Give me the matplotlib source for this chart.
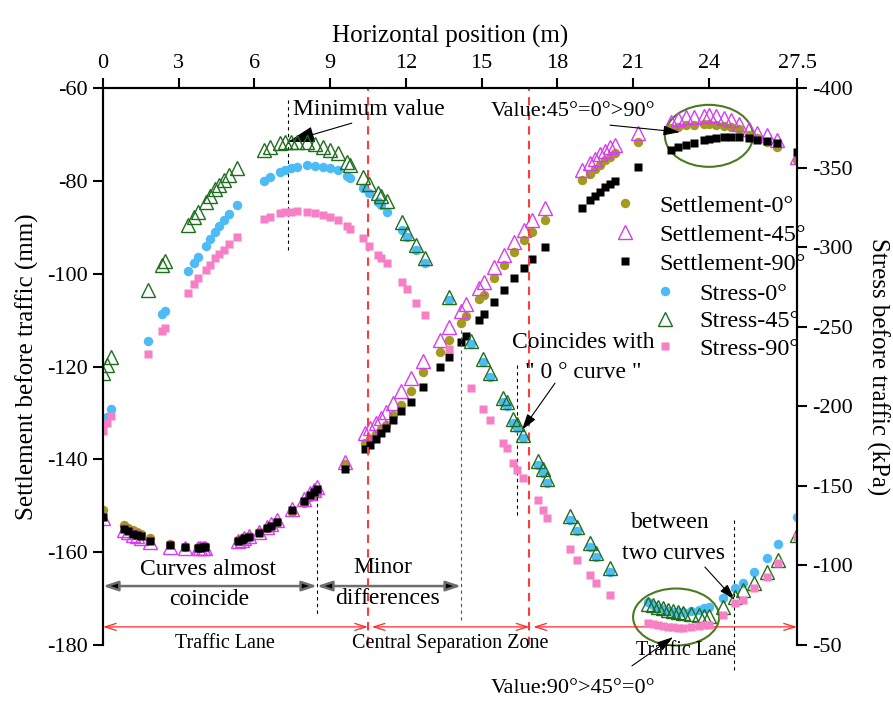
import matplotlib
matplotlib.use("Agg")
import matplotlib.pyplot as plt
from matplotlib.patches import Ellipse

plt.rcParams['font.family'] = ['Liberation Serif', 'DejaVu Sans']
plt.rcParams['axes.unicode_minus'] = False

# ======================================
# data
# ======================================

x_set = [0, 0.85, 1.0, 1.2, 1.35, 1.5, 1.85, 2.65, 3.25, 3.75,
         3.85, 3.95, 4.05, 5.35, 5.5, 5.6, 5.8, 6.2, 6.5, 6.65,
         6.9, 7.5, 7.95, 8.2, 8.35, 8.5, 9.6, 10.4, 10.6, 10.8,
         11.0, 11.2, 11.5, 11.8, 12.2, 12.7, 13.35, 13.7, 14.2, 14.4,
         14.9, 15.1, 15.5, 15.9, 16.3, 16.7, 17.0, 17.5, 19.0, 19.3,
         19.5, 19.7, 19.9, 20.1, 20.3, 21.2, 22.5, 22.8, 23.1, 23.4,
         23.8, 24.0, 24.3, 24.6, 24.9, 25.2, 25.6, 25.9, 26.3, 26.7,
         27.5]

settle_0 = [-151, -154.2, -154.8, -155.3, -155.7, -156.0, -157, -158.2, -158.8, -158.8,
            -158.8, -158.7, -158.6, -157.4, -157.1, -156.9, -156.6, -155.7, -154.7, -154.3,
            -153.5, -151.3, -149.4, -148.2, -147.6, -147.0, -141.0, -136.5, -135.6, -134.6,
            -133.5, -132.5, -130.5, -128.3, -125.2, -121.2, -116.9, -114.3, -110.6, -109.2,
            -105.5, -104.5, -100.9, -98.1, -95.3, -92.8, -91.0, -88.4, -79.8, -78.5,
            -77.5, -76.5, -75.6, -74.8, -74.0, -71.6, -68.6, -68.3, -68.0, -67.9,
            -67.8, -67.8, -67.9, -68.1, -68.4, -68.9, -70.1, -70.8, -71.6, -72.7,
            -75.5]

settle_45 = [-152.7, -155.2, -155.7, -156.3, -156.6, -156.9, -157.8, -158.8, -159.1, -159.2,
             -159.2, -159.1, -159.0, -157.6, -157.3, -157.0, -156.6, -155.6, -154.5, -154.0,
             -153.1, -150.7, -148.6, -147.2, -146.5, -145.9, -140.5, -134.4, -133.3, -132.2,
             -131.0, -129.8, -127.8, -125.3, -122.5, -118.8, -114.3, -111.5, -108.0, -106.5,
             -103.0, -101.8, -98.5, -96.0, -93.2, -90.6, -88.4, -85.9, -77.7, -76.2,
             -75.2, -74.3, -73.5, -72.8, -72.2, -69.7, -67.3, -66.6, -66.3, -66.2,
             -66.1, -65.9, -66.1, -66.4, -66.8, -67.8, -68.9, -69.6, -70.1, -71.2,
             -74.9]

settle_90 = [-152.5, -155.0, -155.5, -156.0, -156.3, -156.6, -157.5, -158.5, -158.9, -159.0,
             -159.0, -158.9, -158.8, -157.6, -157.3, -157.0, -156.7, -155.8, -154.8, -154.3,
             -153.4, -151.0, -148.9, -147.6, -147.0, -146.4, -142.0, -137.8, -136.9, -135.6,
             -134.4, -133.2, -131.6, -129.6, -127.7, -124.4, -120.1, -118.0, -114.7, -113.4,
             -109.9, -108.6, -106.0, -103.6, -101.0, -98.8, -96.9, -94.3, -85.9, -84.2,
             -83.2, -82.3, -81.4, -80.7, -80.0, -77.0, -73.4, -72.7, -72.2, -71.8,
             -71.3, -71.0, -70.8, -70.6, -70.6, -70.6, -70.8, -71.1, -71.5, -71.9,
             -73.8]

x_str = [0.0, 0.15, 0.3, 1.8, 2.35, 2.45, 3.35, 3.6, 3.75, 4.1,
         4.25, 4.45, 4.6, 4.8, 5.0, 5.3, 6.4, 6.6, 7.0, 7.2,
         7.45, 7.7, 8.1, 8.4, 8.7, 9.0, 9.3, 9.65, 9.8, 10.3,
         10.55, 10.9, 11.0, 11.25, 11.85, 12.05, 12.4, 12.75, 13.7, 14.6,
         15.05, 15.35, 15.85, 16.0, 16.25, 16.4, 16.65, 17.25, 17.45, 17.6,
         18.5, 18.8, 19.3, 19.55, 20.1, 21.6, 21.8, 22.0, 22.2, 22.4,
         22.6, 22.8, 23.0, 23.3, 23.6, 23.8, 24.0, 24.55, 25.05, 25.35,
         25.8, 26.3, 26.75, 27.5]

stress_0 = [-188, -193, -198, -241, -258, -260, -285, -290, -294, -301,
            -305, -309.5, -313, -317, -321, -326.5, -341.6, -344, -347.2, -348.5,
            -349.7, -350.6, -351.5, -351, -350.3, -349.5, -348.3, -344.5, -343.4, -337.2,
            -334, -328.5, -326.5, -322, -311, -306.5, -298.5, -290, -267, -239,
            -228, -218.5, -203, -200, -189.5, -186.4, -180, -163, -158, -152,
            -128.5, -121.5, -111.6, -105.3, -96, -77, -75, -73.5, -72.5, -71.5,
            -71, -70.8, -70.8, -71.2, -72.3, -73.3, -74, -79.5, -85.8, -89,
            -96, -104.7, -113.5, -130.4]

stress_45 = [-221, -226, -231, -273, -289, -291, -314, -319, -322, -328.4,
             -332, -336.5, -339, -342, -345.5, -349.7, -361, -363, -365.4, -365.8,
             -366.2, -366.2, -365.8, -364.8, -362.8, -361, -359, -353.5, -351.5, -344,
             -339.5, -334, -332, -329, -315.8, -309, -301.5, -293.2, -268.7, -241,
             -230, -221, -205, -202.5, -192, -189, -182, -165.5, -160.5, -154.5,
             -131, -124, -114, -108, -98.5, -76, -75, -74, -73, -72,
             -71.5, -70.8, -70.2, -69.5, -69, -68.5, -68.2, -74, -80, -84.5,
             -89, -96, -103.4, -119]

stress_90 = [-184.5, -189.5, -194, -232.8, -247.5, -249.5, -271.2, -276.8, -280.6, -285.6,
             -289, -293, -296, -298.5, -302, -306.4, -317.7, -319, -321.5, -322,
             -322.4, -322.7, -322.1, -321.5, -320.2, -319, -317, -313, -311.5, -305.7,
             -301, -295, -293, -290, -278, -273.7, -265, -257.4, -236, -211.5,
             -198.3, -191.4, -177, -173.8, -164.4, -160, -155, -141, -134.8, -129.8,
             -110.3, -103.4, -94, -89, -81.4, -64, -63, -62.3, -61.7, -61.2,
             -61, -60.8, -60.8, -61, -61.8, -62.3, -62.6, -68.8, -76.4, -78.3,
             -85.8, -92.7, -101.5, -117.8]

x_ticks = [0, 3, 6, 9, 12, 15, 18, 21, 24, 27.5]
x_tick_labels = ["0", "3", "6", "9", "12", "15", "18", "21", "24", "27.5"]
left_ticks = [-180, -160, -140, -120, -100, -80, -60]
right_ticks = [-400, -350, -300, -250, -200, -150, -100, -50]

zone_edges = [0, 10.5, 16.9, 27.5]
zone_names = ["Traffic Lane", "Central Separation Zone", "Traffic Lane"]

# ======================================
# figure
# ======================================

fig = plt.figure(figsize=(8.93, 7.02), dpi=100)
ax = fig.add_axes([0.1153, 0.0812, 0.7772, 0.7934])
ax2 = ax.twinx()

c_olive = "#A39A1E"
c_mag = "#D63CF0"
c_blue = "#4DBBF5"
c_green = "#1E6E1E"
c_pink = "#F77FC6"

ax.plot(x_set, settle_0, "o", color=c_olive, ms=6.8, mec="none", label="Settlement-0°")
ax.plot(x_set, settle_45, "^", mfc="none", mec=c_mag, mew=1.0, ms=10, label="Settlement-45°")
ax.plot(x_set, settle_90, "s", color="black", ms=5.5, mec="none", label="Settlement-90°")

ax2.plot(x_str, stress_0, "o", color=c_blue, ms=6.8, mec="none", label="Stress-0°")
ax2.plot(x_str, stress_45, "^", mfc="none", mec=c_green, mew=1.0, ms=10, label="Stress-45°")
ax2.plot(x_str, stress_90, "s", color=c_pink, ms=5.5, mec="none", label="Stress-90°")

# axes
ax.set_xlim(0, 27.5)
ax.set_ylim(-180, -60)
ax2.set_ylim(-50, -400)

ax.xaxis.set_label_position("top")
ax.tick_params(axis="x", bottom=False, labelbottom=False, top=True, labeltop=True)
ax.set_xticks(x_ticks)
ax.set_xticklabels(x_tick_labels)
ax.set_yticks(left_ticks)
ax2.set_yticks(right_ticks)

for a in (ax, ax2):
    a.spines["bottom"].set_visible(False)
    for s in ("top", "left", "right"):
        a.spines[s].set_linewidth(1.5)
    a.tick_params(direction="out", length=7, width=1.5, labelsize=16, pad=4)

ax.set_xlabel("Horizontal position (m)", fontsize=18, labelpad=8)
ax.set_ylabel("Settlement before traffic (mm)", fontsize=18, labelpad=6)
ax2.set_ylabel("Stress before traffic (kPa)", fontsize=18, rotation=270, labelpad=26)

# legends
ax.legend(handles=ax.get_lines()[:3], loc="upper left",
          bbox_to_anchor=(0.6865, 0.7225), bbox_transform=fig.transFigure,
          frameon=False, fontsize=17.5, handlelength=1.0, handletextpad=0.9,
          labelspacing=0.29, borderpad=0, borderaxespad=0)
ax2.legend(handles=ax2.get_lines()[:3], loc="upper left",
           bbox_to_anchor=(0.7312, 0.597), bbox_transform=fig.transFigure,
           frameon=False, fontsize=17.5, handlelength=1.0, handletextpad=0.9,
           labelspacing=0.22, borderpad=0, borderaxespad=0)

# ======================================
# annotations
# ======================================

for xv in zone_edges[1:3]:
    ax.axvline(xv, color="#FF3B3B", ls=(0, (4, 3)), lw=1.5)

# zones along the bottom
for i, name in enumerate(zone_names):
    x0 = zone_edges[i] + (0.15 if i > 0 else 0)
    x1 = zone_edges[i + 1]
    ax.annotate("", xy=(x1, -176.1), xytext=(x0, -176.1),
                arrowprops=dict(arrowstyle="<->,head_length=0.8,head_width=0.25",
                                color="#FF2A2A", lw=0.9, shrinkA=0, shrinkB=0))
ax.text(4.83, -179.6, zone_names[0], fontsize=14.5, ha="center", va="center")
ax.text(13.75, -179.6, zone_names[1], fontsize=14.5, ha="center", va="center")
ax.text(23.1, -181.1, zone_names[2], fontsize=14.5, ha="center", va="center")

# black range arrows
for x0, x1 in [(0, 8.48), (8.48, 14.19)]:
    ax.annotate("", xy=(x1, -167.3), xytext=(x0, -167.3),
                arrowprops=dict(arrowstyle="<|-|>,head_length=0.9,head_width=0.3",
                                fc="black", ec="#6E6E6E", lw=1.8, shrinkA=0, shrinkB=0))
ax.plot([8.48, 8.48], [-146.6, -173.5], color="black", ls=(0, (3, 3)), lw=0.8)
ax.plot([14.19, 14.19], [-112.1, -175.0], color="#555555", ls=(0, (3, 3)), lw=0.8)
ax.text(4.16, -163.8, "Curves almost", fontsize=17, ha="center", va="center")
ax.text(4.2, -170.3, "coincide", fontsize=17, ha="center", va="center")
ax.text(11.1, -163.2, "Minor", fontsize=17, ha="center", va="center")
ax.text(11.29, -169.9, "differences", fontsize=17, ha="center", va="center")

# minimum value
ax.plot([7.33, 7.33], [-62.6, -95.3], color="black", ls=(0, (3, 3)), lw=0.8)
ax.annotate("Minimum value", xy=(7.33, -71.6), xytext=(7.53, -64.7),
            fontsize=17, ha="left", va="center",
            arrowprops=dict(arrowstyle="-|>,head_length=1.0,head_width=0.3",
                            color="black", lw=0.8, shrinkA=0, shrinkB=0,
                            relpos=(0.45, 0)))

# top right ellipse
ax.add_patch(Ellipse((24.01, -70.3), 3.49, 13.36, fill=False, ec="#4B7B1E", lw=1.5))
ax.text(18.62, -65.0, "Value:45°=0°>90°", fontsize=16, ha="center", va="center")
ax.annotate("", xy=(22.86, -69.5), xytext=(20.09, -68.0),
            arrowprops=dict(arrowstyle="-|>,head_length=1.0,head_width=0.3",
                            color="black", lw=0.8, shrinkA=0, shrinkB=0))

# coincides
ax.plot([16.4, 16.4], [-119.7, -152.0], color="black", ls=(0, (3, 3)), lw=0.8)
ax.text(19.02, -114.9, "Coincides with", fontsize=17, ha="center", va="center")
ax.text(19.02, -121.2, '" 0 ° curve "', fontsize=17, ha="center", va="center")
ax.annotate("", xy=(16.6, -133.7), xytext=(17.91, -123.6),
            arrowprops=dict(arrowstyle="-|>,head_length=1.0,head_width=0.3",
                            color="black", lw=0.8, shrinkA=0, shrinkB=0))

# between two curves
ax.plot([25.0, 25.0], [-153.1, -185.4], color="black", ls=(0, (3, 3)), lw=0.8,
        clip_on=False)
ax.text(22.47, -153.5, "between", fontsize=17, ha="center", va="center")
ax.text(22.6, -160.2, "two curves", fontsize=17, ha="center", va="center")
ax.annotate("", xy=(25.04, -170.3), xytext=(23.85, -163.2),
            arrowprops=dict(arrowstyle="-|>,head_length=1.0,head_width=0.3",
                            color="black", lw=0.8, shrinkA=0, shrinkB=0))

# bottom ellipse
ax.add_patch(Ellipse((22.71, -173.97), 3.41, 12.28, fill=False, ec="#4B7B1E",
                     lw=1.5, clip_on=False))
ax.text(18.62, -189.3, "Value:90°>45°=0°", fontsize=16, ha="center", va="center")
ax.annotate("", xy=(22.59, -178.3), xytext=(20.96, -184.5),
            arrowprops=dict(arrowstyle="-|>,head_length=1.0,head_width=0.3",
                            color="black", lw=0.8, shrinkA=0, shrinkB=0),
            annotation_clip=False)

fig.savefig("out.png", dpi=100)
